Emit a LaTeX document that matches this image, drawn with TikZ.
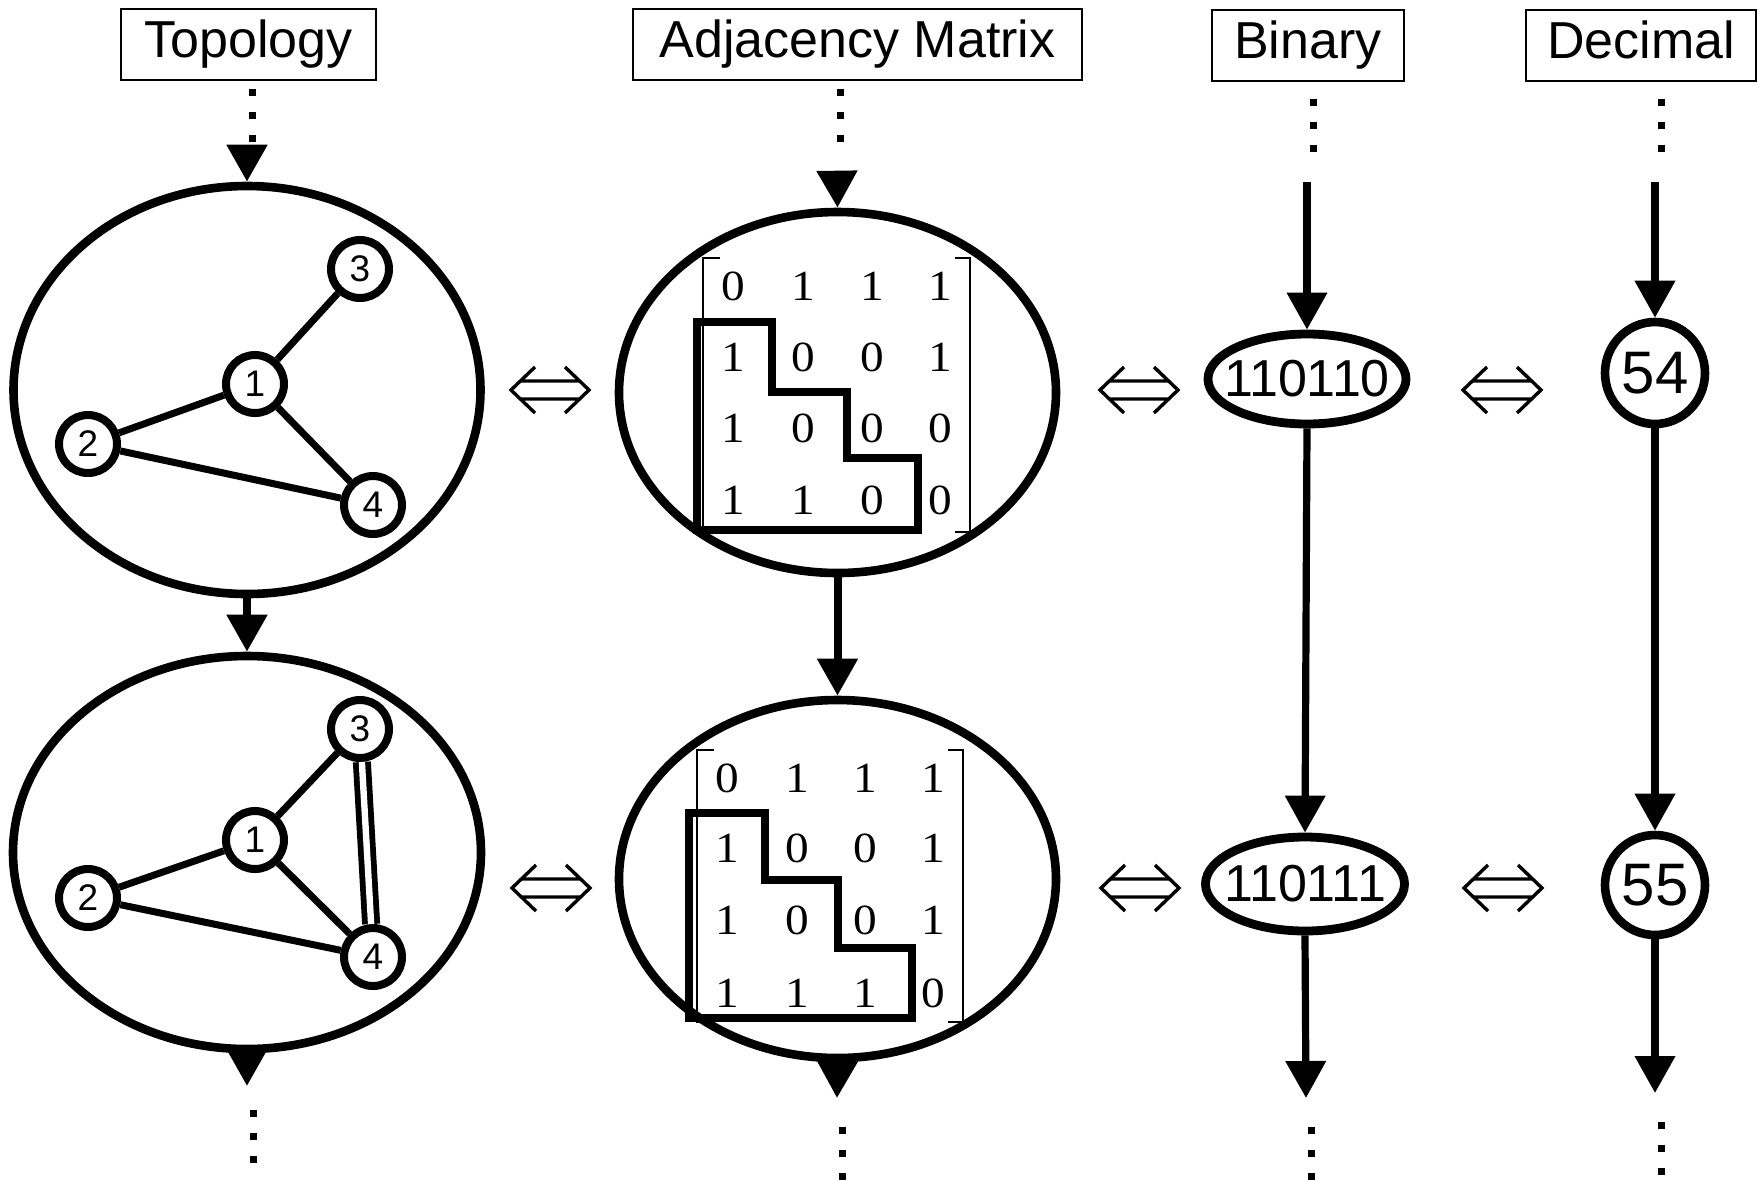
\documentclass[tikz,border=0pt]{standalone}
\usepackage{fontspec}
\setmainfont{Liberation Sans}
\newfontfamily\mxfont[FakeStretch=1.1]{Liberation Serif}
\usetikzlibrary{shapes.geometric,arrows.meta}
\tikzset{
 hdr/.style={draw, line width=1pt, inner sep=0pt, minimum height=35.5pt, font=\fontsize{26pt}{30pt}\selectfont, text height=18.7pt, text depth=5.6pt},
 bigell/.style={draw, ellipse, line width=4.3pt, inner sep=0pt},
 gnode/.style={draw, circle, line width=4pt, minimum size=29pt, inner sep=0pt, font=\fontsize{18.5pt}{20pt}\selectfont},
 gedge/.style={line width=3.5pt},
 arr/.style={line width=4pt, -{Triangle[length=18.5pt,width=19.5pt]}},
 arrb/.style={line width=3.6pt, -{Triangle[length=18.5pt,width=19.5pt]}},
 dots/.style={line width=3.5pt, dash pattern=on 3.5pt off 8pt},
 mx/.style={font=\mxfont\fontsize{21.5pt}{24pt}\selectfont, inner sep=0pt},
 stair/.style={line width=3.6pt, line join=miter},
 brk/.style={line width=1pt},
 iffs/.pic={\draw[line width=1.7pt] (-15,-23) -- (-39,0) -- (-15,23) (15,-23) -- (39,0) -- (15,23) (-29.6,-9) -- (29.6,-9) (-29.6,9) -- (29.6,9);}
}
\begin{document}
\begin{tikzpicture}[x=0.5pt,y=-0.5pt]
\useasboundingbox (0,0) rectangle (1758,1180);
% headers
\node[hdr, minimum width=127.5pt] (hT) at (248.5,44.5) {Topology};
\node[hdr, minimum width=224.5pt] (hA) at (857.5,44.5) {Adjacency Matrix};
\node[hdr, minimum width=96pt] (hB) at (1308,45) {Binary};
\node[hdr, minimum width=115pt] (hD) at (1641,45) {Decimal};

% big ellipses
\node[bigell, minimum width=233.5pt, minimum height=204pt] (T1) at (247,390) {};
\node[bigell, minimum width=234pt, minimum height=196.5pt] (T2) at (247,852.5) {};
\node[bigell, minimum width=218.5pt, minimum height=180.5pt] (M1) at (837.5,392.5) {};
\node[bigell, minimum width=218.5pt, minimum height=179pt] (M2) at (837.5,879) {};

% binary and decimal
\node[bigell, line width=4.4pt, minimum width=99pt, minimum height=45pt, font=\fontsize{26pt}{30pt}\selectfont] (B1) at (1307,379) {\makebox[0pt]{110110}};
\node[bigell, line width=4.4pt, minimum width=99.5pt, minimum height=47pt, font=\fontsize{26pt}{30pt}\selectfont] (B2) at (1305,884) {\makebox[0pt]{110111}};
\node[bigell, minimum width=50pt, minimum height=51pt, font=\fontsize{30pt}{34pt}\selectfont] (D1) at (1655,373) {\makebox[0pt]{54}};
\node[bigell, minimum width=50pt, minimum height=50pt, font=\fontsize{30pt}{34pt}\selectfont] (D2) at (1655,885) {\makebox[0pt]{55}};

% graph 1
\node[gnode] (a1) at (255,384) {1};
\node[gnode] (a2) at (88,444) {2};
\node[gnode] (a3) at (360,269) {3};
\node[gnode] (a4) at (373,505) {4};
\draw[gedge] (a1) -- (a3);
\draw[gedge] (a1) -- (a2);
\draw[gedge] (a1) -- (a4);
\draw[gedge] (a2) -- (a4);

% graph 2
\node[gnode] (b1) at (255,840) {1};
\node[gnode] (b2) at (88,898) {2};
\node[gnode] (b3) at (360,729) {3};
\node[gnode] (b4) at (373,957) {4};
\draw[gedge] (b1) -- (b3);
\draw[gedge] (b1) -- (b2);
\draw[gedge] (b1) -- (b4);
\draw[gedge] (b2) -- (b4);
\draw[line width=2.9pt, double, double distance=3.2pt] (b3) -- (b4);

% matrix 1
\draw[brk] (720,258) -- (703,258) -- (703,532) -- (720,532);
\draw[brk] (955,258) -- (970,258) -- (970,532) -- (955,532);
\foreach \r/\y/\va/\vb/\vc/\vd in {1/286/0/1/1/1, 2/357/1/0/0/1, 3/428/1/0/0/0, 4/500/1/1/0/0}{
  \node[mx] (pa\r c1) at (733,\y) {\va};
  \node[mx] (pa\r c2) at (803,\y) {\vb};
  \node[mx] (pa\r c3) at (872,\y) {\vc};
  \node[mx] (pa\r c4) at (940,\y) {\vd};
}
\draw[stair] (697,322) -- (772,322) -- (772,392) -- (847,392) -- (847,458) -- (918,458) -- (918,530) -- (697,530) -- cycle;

% matrix 2
\draw[brk] (714,750) -- (697,750) -- (697,1022) -- (714,1022);
\draw[brk] (948,750) -- (963,750) -- (963,1022) -- (948,1022);
\foreach \r/\y/\va/\vb/\vc/\vd in {1/778/0/1/1/1, 2/848/1/0/0/1, 3/920/1/0/0/1, 4/993/1/1/1/0}{
  \node[mx] (pb\r c1) at (727,\y) {\va};
  \node[mx] (pb\r c2) at (797,\y) {\vb};
  \node[mx] (pb\r c3) at (865,\y) {\vc};
  \node[mx] (pb\r c4) at (933,\y) {\vd};
}
\draw[stair] (689,813) -- (765,813) -- (765,880) -- (838,880) -- (838,948) -- (912,948) -- (912,1018) -- (689,1018) -- cycle;

% equivalence symbols
\pic at (550,390) {iffs};
\pic at (1139,390) {iffs};
\pic at (1502,390) {iffs};
\pic at (551,888) {iffs};
\pic at (1140,888) {iffs};
\pic at (1503,888) {iffs};

% coordinates
\coordinate (tD1) at (252,142);
\coordinate (mD1) at (840,142);
\coordinate (bD1) at (1313,152);
\coordinate (dD1) at (1661,152);
\coordinate (tA) at (247,145);
\coordinate (mA) at (837,172);
\coordinate (bA) at (1307,182);
\coordinate (dA) at (1655,182);
\coordinate (tZ) at (247,1086);
\coordinate (mZ) at (837,1098);
\coordinate (bZ) at (1306,1098);
\coordinate (dZ) at (1655,1093);
\coordinate (tE1) at (253,1110);
\coordinate (tE2) at (253,1165);
\coordinate (mE1) at (842,1127);
\coordinate (mE2) at (842,1180);
\coordinate (bE1) at (1311,1127);
\coordinate (bE2) at (1311,1180);
\coordinate (dE1) at (1661,1122);
\coordinate (dE2) at (1661,1180);

% dotted continuations
\draw[dots, shorten <=4pt] (hT.south -| tD1) -- (tD1);
\draw[dots, shorten <=4pt] (hA.south -| mD1) -- (mD1);
\draw[dots, shorten <=8.5pt] (hB.south -| bD1) -- (bD1);
\draw[dots, shorten <=8.5pt] (hD.south -| dD1) -- (dD1);
\draw[dots] (tE1) -- (tE2);
\draw[dots] (mE1) -- (mE2);
\draw[dots] (bE1) -- (bE2);
\draw[dots] (dE1) -- (dE2);

% arrows
\draw[arr] (tA) -- (T1.north);
\draw[arr] (T1.south) -- (T2.north);
\draw[arr] (T2.south) -- (tZ);
\draw[arr] (mA) -- (M1.north);
\draw[arr] (M1.south) -- (M2.north);
\draw[arr] (M2.south) -- (mZ);
\draw[arrb] (bA) -- (B1.north);
\draw[arrb] (B1.south) -- (B2.north);
\draw[arrb] (B2.south) -- (bZ);
\draw[arrb] (dA) -- (D1.north);
\draw[arrb] (D1.south) -- (D2.north);
\draw[arrb] (D2.south) -- (dZ);
\end{tikzpicture}
\end{document}
